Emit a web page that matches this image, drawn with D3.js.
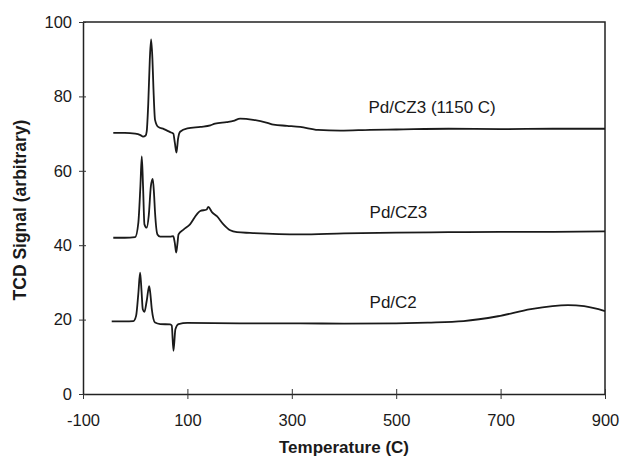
<!DOCTYPE html>
<html>
<head>
<meta charset="utf-8">
<script src="https://cdnjs.cloudflare.com/ajax/libs/d3/7.8.5/d3.min.js"></script>
<style>
  body { margin: 0; background: #fff; }
  text { font-family: Arial, "Liberation Sans", sans-serif; fill: #1a1a1a; }
</style>
</head>
<body>
<div id="chart"></div>
<script>
// TPR traces (temperature in C, signal arbitrary)
var cz3_1150_T = [-42, -20, 0, 10, 15, 20, 22, 25, 28, 30.5, 33, 35, 38, 44, 55, 67, 73, 76, 79, 82, 86, 100, 125, 144, 153, 175, 188, 201, 226, 253, 265, 291, 316, 350, 393, 450, 500, 600, 700, 800, 900];
var cz3_1150_S = [70.2, 70.2, 70.0, 69.6, 69.2, 69.5, 70.5, 78, 90, 95.3, 90, 82, 73.7, 71.8, 71.2, 70.4, 70.0, 67.5, 64.9, 68.5, 70.5, 71.4, 71.8, 72.2, 72.7, 73.1, 73.4, 74.0, 73.7, 72.9, 72.4, 72.1, 71.8, 71.0, 70.8, 71.0, 71.1, 71.3, 71.2, 71.3, 71.3];

var cz3_T = [-42, -20, 0, 6, 10, 12.6, 15, 17.7, 22, 26, 30, 33.6, 36, 38, 42.6, 48, 67, 73, 76, 78.5, 81, 83, 92.5, 105, 118, 124.6, 137, 140, 147, 156.5, 169, 182, 195, 220, 316, 400, 500, 600, 700, 800, 900];
var cz3_S = [42.0, 42.0, 42.2, 46, 56, 63.9, 56, 45.6, 44.7, 48, 55.8, 57.8, 54, 48.8, 42.9, 42.3, 42.3, 42.4, 40.5, 38.0, 40.5, 42.9, 44.2, 45.6, 48.3, 49.2, 49.6, 50.3, 48.9, 47.8, 45.6, 44.0, 43.5, 43.3, 42.9, 43.2, 43.4, 43.5, 43.6, 43.6, 43.7];

var c2_T = [-45, -20, -3.5, 1.7, 6, 9.4, 12, 14.5, 17.7, 22, 26.7, 29, 31.8, 38, 48, 67, 70, 73.3, 77, 83, 100, 200, 316, 400, 500, 560, 629, 695, 758, 829, 860, 900];
var c2_S = [19.5, 19.5, 19.6, 21.0, 27, 32.6, 28, 22.8, 22.1, 25, 29.0, 27, 22.8, 19.2, 18.8, 18.7, 18.4, 11.6, 17.4, 18.8, 19.1, 19.0, 19.0, 18.9, 19.0, 19.2, 19.6, 20.9, 22.8, 23.9, 23.6, 22.3];

var seriesNames = ["Pd/CZ3 (1150 C)", "Pd/CZ3", "Pd/C2"];
var xTicks = [-100, 100, 300, 500, 700, 900];
var yTicks = [0, 20, 40, 60, 80, 100];

var width = 620, height = 458;
var margin = {top: 22, right: 15, bottom: 64, left: 83};

var svg = d3.select("#chart").append("svg")
    .attr("width", width)
    .attr("height", height);

var x = d3.scaleLinear().domain([-100, 900]).range([margin.left, width - margin.right]);
var y = d3.scaleLinear().domain([0, 100]).range([height - margin.bottom, margin.top]);

var series = [
    {name: seriesNames[0], T: cz3_1150_T, S: cz3_1150_S, lx: 447, ly: 75.6},
    {name: seriesNames[1], T: cz3_T, S: cz3_S, lx: 449, ly: 47.4},
    {name: seriesNames[2], T: c2_T, S: c2_S, lx: 449, ly: 23.2}
];

// frame: top and right
svg.append("path")
    .attr("d", "M" + x(-100) + "," + y(100) + "H" + x(900) + "V" + y(0))
    .attr("fill", "none")
    .attr("stroke", "#222")
    .attr("stroke-width", 1.5);

var xAxis = svg.append("g")
    .attr("transform", "translate(0," + y(0) + ")")
    .call(d3.axisBottom(x).tickValues(xTicks).tickSize(0).tickPadding(20)
        .tickFormat(function(d){ return String(d); }));
xAxis.select(".domain").attr("stroke", "#222").attr("stroke-width", 1.5);
xAxis.selectAll("text").style("font-size", "16.5px").attr("fill", "#1a1a1a");
xAxis.selectAll(".tick").append("line")
    .attr("y1", -5).attr("y2", 5).attr("stroke", "#333").attr("stroke-width", 1);

var yAxis = svg.append("g")
    .attr("transform", "translate(" + x(-100) + ",0)")
    .call(d3.axisLeft(y).tickValues(yTicks).tickSize(0).tickPadding(11));
yAxis.select(".domain").attr("stroke", "#222").attr("stroke-width", 1.5);
yAxis.selectAll("text").style("font-size", "16.5px").attr("fill", "#1a1a1a");
yAxis.selectAll(".tick").append("line")
    .attr("x1", -4).attr("x2", 3).attr("stroke", "#333").attr("stroke-width", 1);

var line = d3.line()
    .x(function(d){ return x(d[0]); })
    .y(function(d){ return y(d[1]); })
    .curve(d3.curveMonotoneX);

series.forEach(function(s){
    var pts = s.T.map(function(t, i){ return [t, s.S[i]]; });
    svg.append("path")
        .datum(pts)
        .attr("d", line)
        .attr("fill", "none")
        .attr("stroke", "#1a1a1a")
        .attr("stroke-width", 1.8)
        .attr("stroke-linejoin", "round");

    svg.append("text")
        .attr("x", x(s.lx))
        .attr("y", y(s.ly))
        .style("font-size", "17px")
        .text(s.name);
});

svg.append("text")
    .attr("x", (x(-100) + x(900)) / 2)
    .attr("y", 453)
    .attr("text-anchor", "middle")
    .style("font-size", "17px")
    .style("font-weight", "bold")
    .text("Temperature (C)");

svg.append("text")
    .attr("transform", "translate(26," + 210 + ") rotate(-90)")
    .attr("text-anchor", "middle")
    .style("font-size", "17.5px")
    .style("font-weight", "bold")
    .text("TCD Signal (arbitrary)");
</script>
</body>
</html>
